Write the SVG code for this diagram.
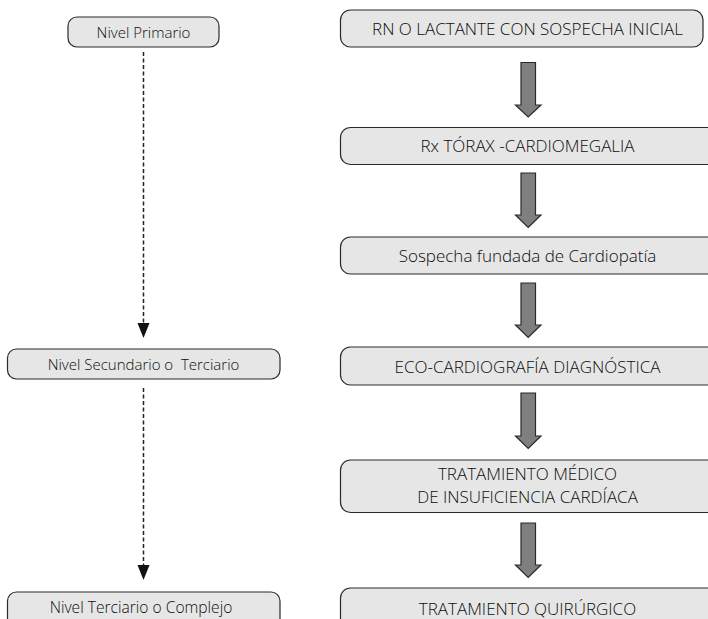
<svg xmlns="http://www.w3.org/2000/svg" width="708" height="619" viewBox="0 0 708 619">
<style>
.box{fill:#e6e6e6;stroke:#2a2a2a;stroke-width:1.2}
.t{font-family:"Open Sans","Liberation Sans",sans-serif;font-weight:300;fill:#0d0d0d;text-anchor:middle}
.r{font-size:17px}
.l{font-size:15px}
.big{fill:#7f7f7f;stroke:#2a2a2a;stroke-width:1.2;stroke-linejoin:miter}
.dash{stroke:#222;stroke-width:1.5;stroke-dasharray:4 2.5;fill:none}
.head{fill:#111}
</style>
<g id="connectors">
<path class="dash" d="M143.5,52 V324"/>
<path class="head" d="M137.5,323 H149.5 L143.5,338 Z"/>
<path class="dash" d="M143.5,388 V566"/>
<path class="head" d="M137.5,565 H149.5 L143.5,580 Z"/>
<path class="big" d="M521,62.5 H535.5 V105 H541 L528.2,117 L515.5,105 H521 Z"/>
<path class="big" d="M521,173 H535.5 V215 H541 L528.2,227.5 L515.5,215 H521 Z"/>
<path class="big" d="M521,283 H535.5 V325 H541 L528.2,337.5 L515.5,325 H521 Z"/>
<path class="big" d="M521,393 H535.5 V436 H541 L528.2,448.5 L515.5,436 H521 Z"/>
<path class="big" d="M521,523 H535.5 V565 H541 L528.2,577.5 L515.5,565 H521 Z"/>
</g>
<g id="nivel-primario">
<rect class="box" x="68" y="17" width="151" height="30" rx="9"/>
<text class="t l" x="143.5" y="37.5">Nivel Primario</text>
</g>
<g id="nivel-secundario">
<rect class="box" x="7.5" y="349" width="272.5" height="30" rx="9"/>
<text class="t l" x="143.5" y="370" xml:space="preserve">Nivel Secundario o  Terciario</text>
</g>
<g id="nivel-terciario">
<rect class="box" x="7.5" y="592" width="272.5" height="40" rx="9"/>
<text class="t l" x="141" y="613" style="font-size:15.6px">Nivel Terciario o Complejo</text>
</g>
<g id="rn">
<rect class="box" x="340.5" y="10" width="362.5" height="37" rx="10"/>
<text class="t r" x="527.5" y="35">RN O LACTANTE CON SOSPECHA INICIAL</text>
</g>
<g id="rx">
<rect class="box" x="340.5" y="127.5" width="380" height="37" rx="10"/>
<text class="t r" x="527.5" y="152">Rx TÓRAX -CARDIOMEGALIA</text>
</g>
<g id="sospecha">
<rect class="box" x="340.5" y="237" width="380" height="37" rx="10"/>
<text class="t r" x="527.5" y="262">Sospecha fundada de Cardiopatía</text>
</g>
<g id="eco">
<rect class="box" x="340.5" y="347" width="380" height="38" rx="10"/>
<text class="t r" x="527.5" y="373">ECO-CARDIOGRAFÍA DIAGNÓSTICA</text>
</g>
<g id="tratamiento-medico">
<rect class="box" x="340.5" y="460" width="380" height="52.5" rx="10"/>
<text class="t r" x="527.5" y="479.5">TRATAMIENTO MÉDICO</text>
<text class="t r" x="527.5" y="503">DE INSUFICIENCIA CARDÍACA</text>
</g>
<g id="tratamiento-quirurgico">
<rect class="box" x="340.5" y="588" width="380" height="50" rx="10"/>
<text class="t r" x="527.5" y="615">TRATAMIENTO QUIRÚRGICO</text>
</g>
</svg>
